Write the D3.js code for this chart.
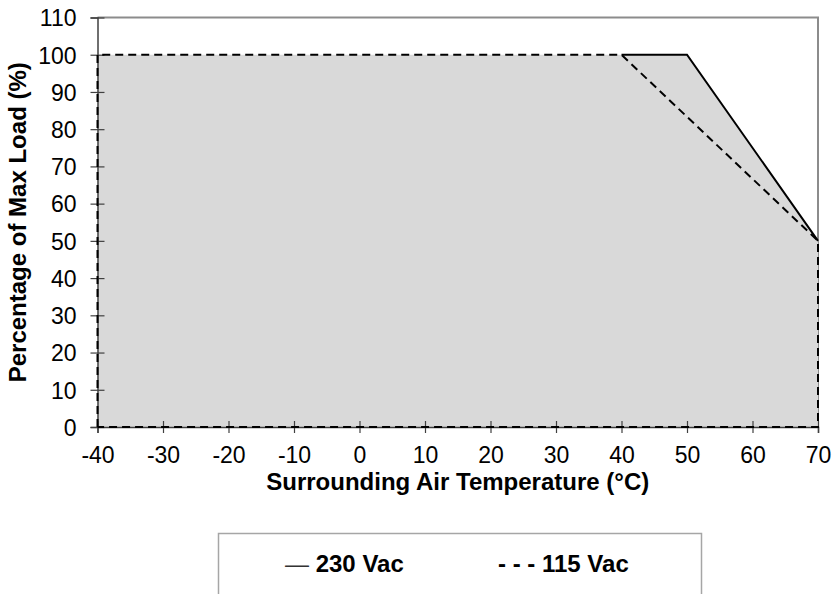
<!DOCTYPE html>
<html lang="en">
	<head>
		<meta charset="utf-8">
		<title>Derating curve</title>
		<script type="text/javascript" src="https://d3js.org/d3.v7.min.js"></script>
		<style type="text/css">
			body {
				background-color: white;
				font-family: "Liberation Sans", Arial, sans-serif;
				margin: 0;
			}
			svg { display: block; }
		</style>
	</head>
	<body>
		<script type="text/javascript">
			//data
			var xTicks = [-40, -30, -20, -10, 0, 10, 20, 30, 40, 50, 60, 70];
			var yTicks = [0, 10, 20, 30, 40, 50, 60, 70, 80, 90, 100, 110];
			var areaTemp = [-40, -40, 50, 70, 70];
			var areaLoad = [0, 100, 100, 50, 0];
			var temp230 = [40, 50, 70];
			var load230 = [100, 100, 50];
			var temp115 = [-40, -40, 40, 70, 70, -40];
			var load115 = [0, 100, 100, 50, 0, 0];
			var seriesNames = ["230 Vac", "115 Vac"];

			//size and margins (plot box in pixels)
			var w = 832, h = 594;
			var pLeft = 97.5, pRight = 818, pTop = 17.5, pBottom = 427;

			var svg = d3.select("body").append("svg")
				.attr("width", w)
				.attr("height", h);

			var x = d3.scaleLinear().domain([-40, 70]).range([pLeft, pRight]);
			var y = d3.scaleLinear().domain([0, 110]).range([pBottom, pTop]);
			var line = d3.line().x(function(d) { return x(d[0]); }).y(function(d) { return y(d[1]); });

			//plot frame (top and right)
			svg.append("path")
				.attr("d", "M" + pLeft + "," + pTop + "H" + pRight + "V" + pBottom)
				.attr("fill", "none")
				.attr("stroke", "#8c8c8c")
				.attr("stroke-width", 2);

			//shaded area
			svg.append("path")
				.datum(areaTemp.map(function(d, i) { return [d, areaLoad[i]]; }))
				.attr("d", line)
				.attr("fill", "#d9d9d9")
				.attr("stroke", "none");

			//axes
			var fmt = function(d) { return String(d); };
			var xAxis = svg.append("g")
				.attr("transform", "translate(0," + pBottom + ")")
				.call(d3.axisBottom(x).tickValues(xTicks).tickSize(6).tickPadding(14).tickFormat(fmt));
			xAxis.selectAll(".tick line").attr("y1", -6);
			var yAxis = svg.append("g")
				.attr("transform", "translate(" + pLeft + ",0)")
				.call(d3.axisLeft(y).tickValues(yTicks).tickSize(7).tickPadding(14).tickFormat(fmt));
			yAxis.selectAll(".tick line").attr("x1", 7).attr("x2", -7);
			[xAxis, yAxis].forEach(function(a) {
				a.select(".domain").attr("stroke", "#404040").attr("stroke-width", 1.5);
				a.selectAll(".tick line").attr("stroke", "#404040").attr("stroke-width", 1.2);
				a.selectAll("text")
					.attr("font-family", "'Liberation Sans', Arial, sans-serif")
					.attr("font-size", 23)
					.attr("fill", "#000");
			});
			yAxis.selectAll("text").attr("dy", "0.36em");

			//lines
			svg.append("path")
				.datum(temp230.map(function(d, i) { return [d, load230[i]]; }))
				.attr("d", line)
				.attr("fill", "none")
				.attr("stroke", "#000")
				.attr("stroke-width", 2);
			svg.append("path")
				.datum(temp115.map(function(d, i) { return [d, load115[i]]; }))
				.attr("d", line)
				.attr("fill", "none")
				.attr("stroke", "#000")
				.attr("stroke-width", 2)
				.attr("stroke-dasharray", "8,5");

			//axis titles
			svg.append("text")
				.attr("x", (pLeft + pRight) / 2)
				.attr("y", 490)
				.attr("text-anchor", "middle")
				.attr("font-size", 24)
				.attr("font-weight", "bold")
				.text("Surrounding Air Temperature (°C)");
			svg.append("text")
				.attr("transform", "translate(26," + (pTop + pBottom) / 2 + ") rotate(-90)")
				.attr("text-anchor", "middle")
				.attr("font-size", 24)
				.attr("font-weight", "bold")
				.text("Percentage of Max Load (%)");

			//legend
			var lg = svg.append("g");
			lg.append("rect")
				.attr("x", 218.5).attr("y", 533.5)
				.attr("width", 483).attr("height", 80)
				.attr("fill", "white")
				.attr("stroke", "#a6a6a6")
				.attr("stroke-width", 1.5);
			var t1 = lg.append("text")
				.attr("x", 285).attr("y", 572)
				.attr("font-size", 24)
				.attr("font-weight", "bold");
			t1.append("tspan").attr("font-weight", "normal").attr("fill", "#333").text("\u2014 ");
			t1.append("tspan").text(seriesNames[0]);
			lg.append("text")
				.attr("x", 498).attr("y", 572)
				.attr("font-size", 24)
				.attr("font-weight", "bold")
				.text("- - - " + seriesNames[1]);
		</script>
	</body>
</html>
